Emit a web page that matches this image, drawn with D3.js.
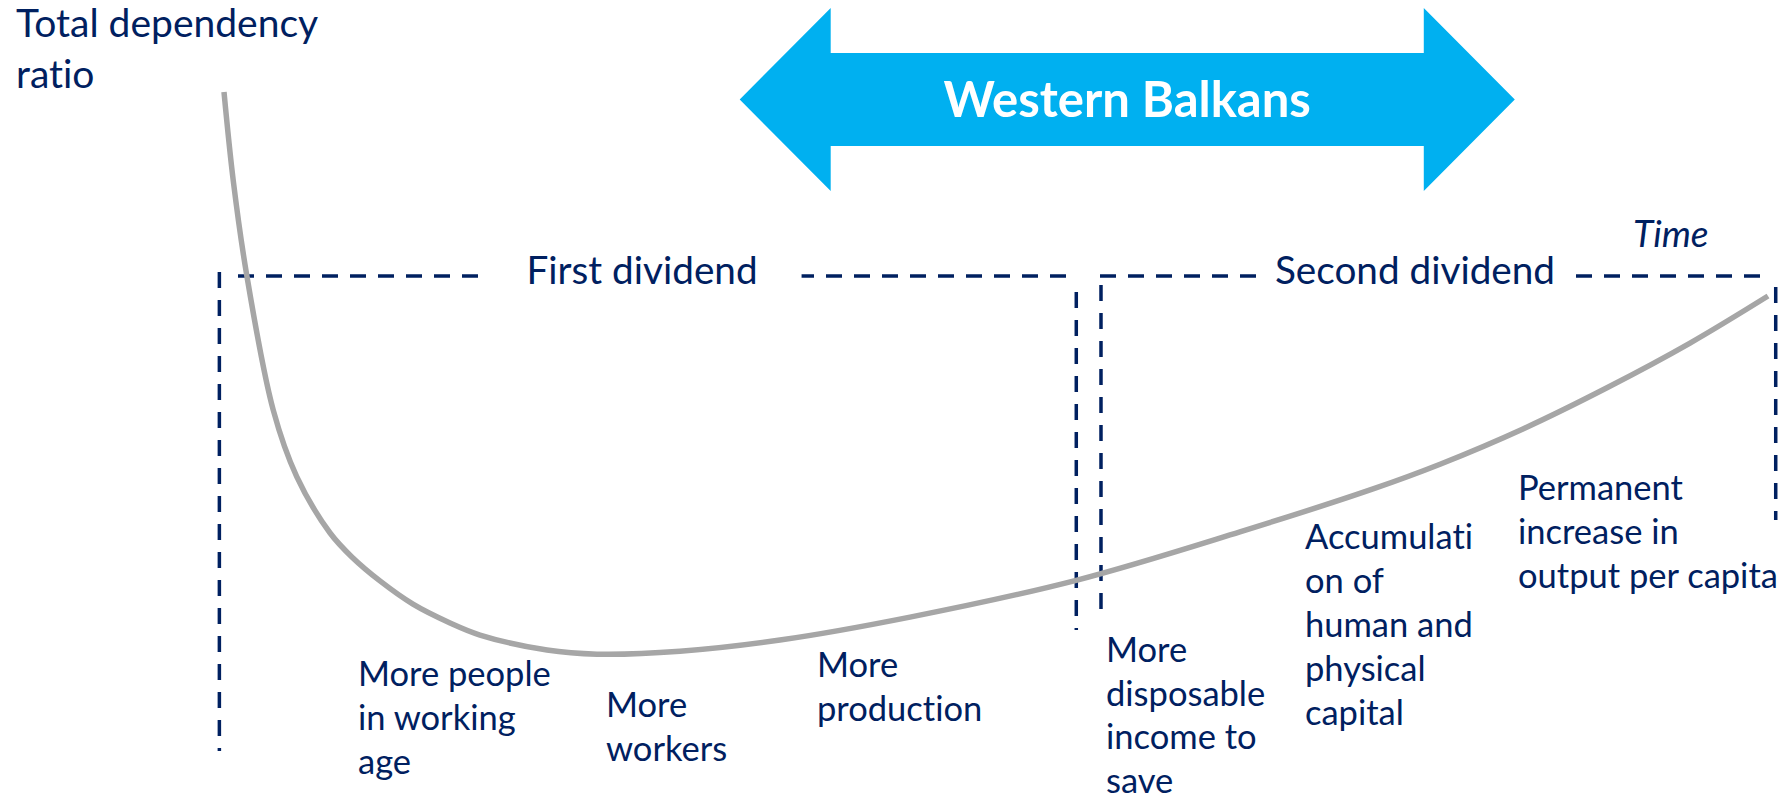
<!DOCTYPE html>
<html>
<head>
<meta charset="utf-8">
<script src="https://cdn.jsdelivr.net/npm/d3@7"></script>
<style>
html, body { margin: 0; padding: 0; background: #fff; }
svg { display: block; font-family: Lato, "Open Sans", sans-serif; font-variant-ligatures: none; }
</style>
</head>
<body>
<svg width="1785" height="798"></svg>
<script>
// demographic transition sketch: time index 0-100, dependency ratio index 0-100
const timeSteps = [0, 0.61, 1.47, 3.19, 4.71, 6.87, 8.35, 10.1, 12.24, 14.64, 16.58, 20.92, 24.16, 29.53, 36.01, 44.43, 55.25, 65.8, 74.42, 78.76, 84.13, 89.57, 94.95, 100];
const dependencyRatio = [100, 84.7, 68.9, 45.9, 34.6, 25.0, 20.75, 16.85, 12.9, 9.7, 7.65, 5.1, 4.4, 4.9, 6.8, 10.7, 17.0, 25.2, 32.5, 36.7, 42.7, 49.7, 57.3, 65.3];

const phaseNames = ["First dividend", "Second dividend"];
const phaseStart = [-0.3, 56.8];
const phaseEnd = [55.2, 100.5];

const westernBalkans = [33.4, 83.6];

const effectLabels = [
    ["More people", "in working", "age"],
    ["More", "workers"],
    ["More", "production"],
    ["More", "disposable", "income to", "save"],
    ["Accumulati", "on of", "human and", "physical", "capital"],
    ["Permanent", "increase in", "output per capita"]
];

const yTitle = ["Total dependency", "ratio"];
const xTitle = "Time";

// layout
const navy = "#002060";
const labelAt = [[358, 686], [606, 717], [817, 677], [1106, 662], [1305, 549], [1518, 500]];
const labelStep = [44, 44, 44, 43.5, 44, 44];
const phaseTop = 276;
const phaseLeftLen = [[272, 751], [285, 618]];
const phaseRightLen = [[292, 630], [287, 520]];
const phaseLineFrom = [238, 1100];
const phaseLineTo = [1077, 1765];
const phaseLabelX = [642, 1415];
const phasePad = [44, 16];

const svg = d3.select("svg");

const x = d3.scaleLinear().domain([0, 100]).range([224, 1768]);
const y = d3.scaleLinear().domain([0, 100]).range([680, 92]);

const points = timeSteps.map((t, i) => ({ t: t, v: dependencyRatio[i] }));

// Western Balkans double arrow
const ax0 = x(westernBalkans[0]), ax1 = x(westernBalkans[1]);
const acy = 99.5, head = 91, headH = 91.5, shaftH = 46.5;
const arrowPts = [
    [ax0, acy], [ax0 + head, acy - headH], [ax0 + head, acy - shaftH],
    [ax1 - head, acy - shaftH], [ax1 - head, acy - headH], [ax1, acy],
    [ax1 - head, acy + headH], [ax1 - head, acy + shaftH],
    [ax0 + head, acy + shaftH], [ax0 + head, acy + headH]
];
svg.append("polygon")
    .attr("points", arrowPts.map(p => p.join(",")).join(" "))
    .attr("fill", "#00B0F0");

svg.append("text")
    .attr("x", (ax0 + ax1) / 2)
    .attr("y", 117)
    .attr("text-anchor", "middle")
    .attr("fill", "#fff")
    .attr("font-weight", "bold")
    .attr("font-size", 49)
    .text("Western Balkans");

// dividend brackets
const phases = svg.append("g")
    .attr("stroke", navy)
    .attr("stroke-width", 3.5)
    .attr("stroke-dasharray", "16,12")
    .attr("fill", "none");

phaseNames.forEach((name, i) => {
    phases.append("line")
        .attr("x1", phaseLineFrom[i]).attr("x2", phaseLineTo[i])
        .attr("y1", phaseTop).attr("y2", phaseTop);
    phases.append("line")
        .attr("x1", x(phaseStart[i])).attr("x2", x(phaseStart[i]))
        .attr("y1", phaseLeftLen[i][0]).attr("y2", phaseLeftLen[i][1]);
    phases.append("line")
        .attr("x1", x(phaseEnd[i])).attr("x2", x(phaseEnd[i]))
        .attr("y1", phaseRightLen[i][0]).attr("y2", phaseRightLen[i][1]);
});

// the curve
svg.append("path")
    .datum(points)
    .attr("fill", "none")
    .attr("stroke", "#A6A6A6")
    .attr("stroke-width", 5.5)
    .attr("d", d3.line()
        .x(d => x(d.t))
        .y(d => y(d.v))
        .curve(d3.curveCatmullRom.alpha(0.5)));

// phase names sit on white boxes over the dashed top line
phaseNames.forEach((name, i) => {
    const t = svg.append("text")
        .attr("x", phaseLabelX[i])
        .attr("y", 284)
        .attr("text-anchor", "middle")
        .attr("fill", navy)
        .attr("font-size", 38.7)
        .text(name);
    const w = t.node().getComputedTextLength();
    svg.insert("rect", "path")
        .attr("x", phaseLabelX[i] - w / 2 - phasePad[i])
        .attr("y", 260)
        .attr("width", w + 2 * phasePad[i])
        .attr("height", 34)
        .attr("fill", "#fff");
});

// axis titles
svg.append("text")
    .attr("fill", navy)
    .attr("font-size", 39)
    .selectAll("tspan")
    .data(yTitle)
    .join("tspan")
    .attr("x", 16)
    .attr("y", (d, i) => 37 + i * 51)
    .text(d => d);

svg.append("text")
    .attr("x", 1633)
    .attr("y", 247)
    .attr("fill", navy)
    .attr("font-size", 37)
    .attr("font-style", "italic")
    .text(xTitle);

// effect labels under the curve
effectLabels.forEach((lines, i) => {
    svg.append("text")
        .attr("fill", navy)
        .attr("font-size", 34.5)
        .selectAll("tspan")
        .data(lines)
        .join("tspan")
        .attr("x", labelAt[i][0])
        .attr("y", (d, j) => labelAt[i][1] + j * labelStep[i])
        .text(d => d);
});
</script>
</body>
</html>
